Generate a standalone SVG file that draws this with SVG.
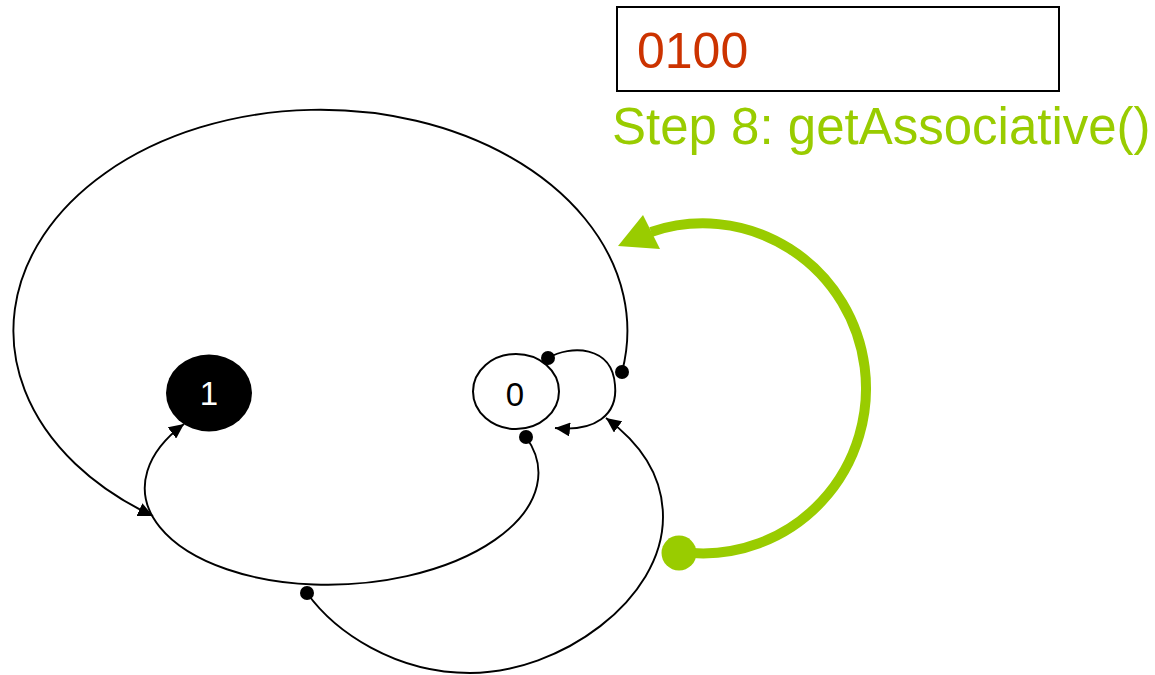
<svg xmlns="http://www.w3.org/2000/svg" width="1155" height="675" viewBox="0 0 1155 675">
<style>
.edge{fill:none;stroke:#000;stroke-width:1.9}
.dot{fill:#000}
.lbl{font-family:"Liberation Sans",Arial,sans-serif}
</style>
<defs>
<marker id="arr" markerUnits="userSpaceOnUse" markerWidth="15" markerHeight="14" viewBox="0 0 15 14" refX="15" refY="7" orient="auto">
<path d="M0,0 L15,7 L0,14 z" fill="#000"/>
</marker>
</defs>
<rect width="1155" height="675" fill="#fff"/>
<g id="state-box">
<rect x="617" y="7" width="442" height="84" fill="#fff" stroke="#000" stroke-width="2"/>
<text class="lbl" x="637" y="68" font-size="50" fill="#CC3300">0100</text>
</g>
<g id="step-label">
<text class="lbl" x="612" y="144" font-size="51" fill="#99CC00">Step 8: getAssociative()</text>
</g>
<g id="node-1">
<ellipse cx="209" cy="393" rx="43" ry="38.5" fill="#000"/>
<text class="lbl" x="209" y="405" font-size="33" fill="#fff" text-anchor="middle">1</text>
</g>
<g id="node-0">
<ellipse cx="516" cy="391.5" rx="43" ry="37.5" fill="#fff" stroke="#000" stroke-width="2"/>
<text class="lbl" x="515" y="406" font-size="33" fill="#000" text-anchor="middle">0</text>
</g>
<g id="connectors">
<path class="edge" d="M622 372 A307 221 0 1 0 153 516" marker-end="url(#arr)"/>
<path class="edge" d="M548 358 C570 345,612 345,615 385 C618 415,595 432,555 428" marker-end="url(#arr)"/>
<path class="edge" d="M526 437 A197 104 -3 1 1 184 424" marker-end="url(#arr)"/>
<path class="edge" d="M307 593 C335 632,395 673,470 673 C560 673,663 600,663 517 C663 475,640 443,606 418" marker-end="url(#arr)"/>
<circle class="dot" cx="622" cy="372" r="7"/>
<circle class="dot" cx="548" cy="358" r="7"/>
<circle class="dot" cx="526" cy="437" r="7"/>
<circle class="dot" cx="307" cy="593" r="7"/>
<path d="M692 553 A163 165 0 1 0 651 232" fill="none" stroke="#99CC00" stroke-width="10"/>
<polygon points="618,246 643,215 660,249" fill="#99CC00"/>
<circle cx="679" cy="553" r="17.5" fill="#99CC00"/>
</g>
</svg>
